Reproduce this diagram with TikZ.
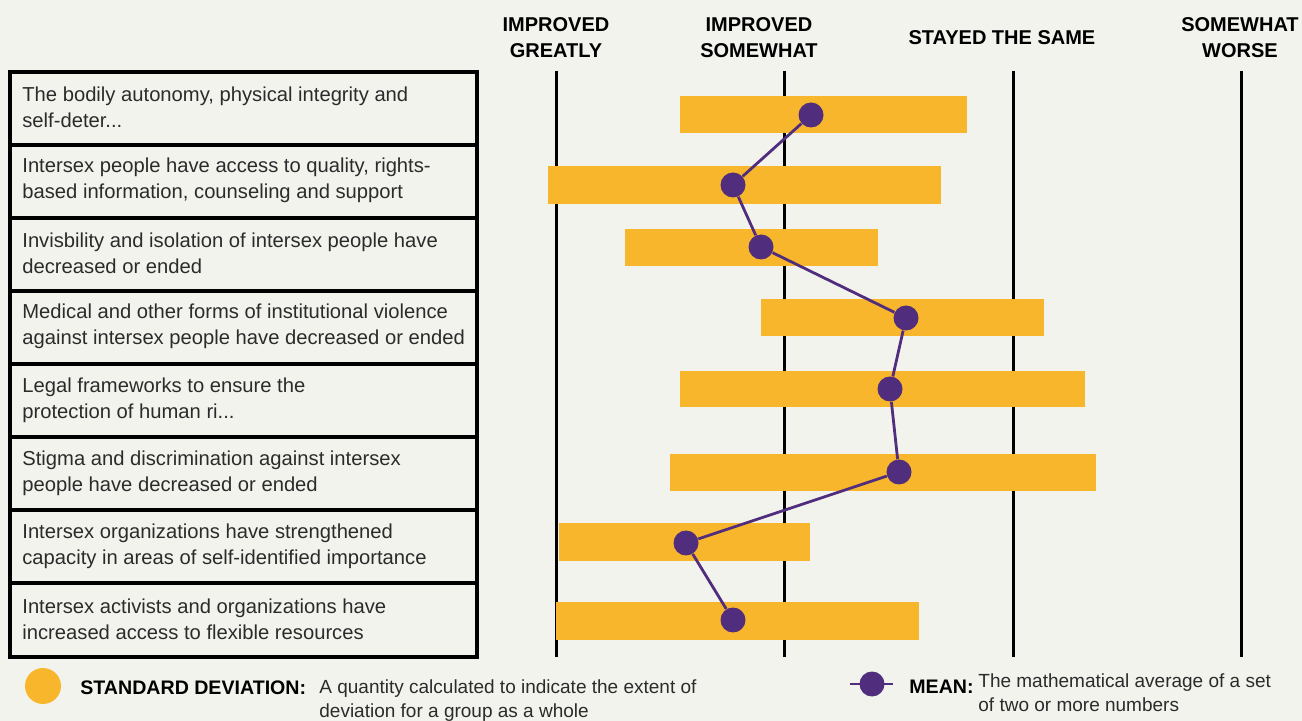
\documentclass[tikz,border=0pt]{standalone}
\usepackage{fontspec}
\setmainfont{Liberation Sans}
\definecolor{sdorange}{HTML}{F8B62C}
\definecolor{meanpurple}{HTML}{512D7D}
\definecolor{paper}{HTML}{F3F3EE}
\definecolor{labelgrey}{HTML}{2B2B2B}
\tikzset{
  rowlabel/.style={anchor=west, align=left, inner sep=0pt, text=labelgrey,
    font=\fontsize{10.1}{13.2}\selectfont},
  colhead/.style={align=center, inner sep=0pt, text=black,
    font=\fontsize{10}{13}\selectfont\bfseries},
  legendhead/.style={anchor=west, inner sep=0pt, text=black,
    font=\fontsize{9.8}{12}\selectfont\bfseries},
  legendtext/.style={anchor=north west, align=left, inner sep=0pt, text=labelgrey,
    font=\fontsize{9.5}{12}\selectfont},
  meandot/.style={circle, fill=meanpurple, inner sep=0pt, minimum size=12.5pt},
  meanline/.style={meanpurple, line width=1.4pt},
  sdbar/.style={fill=sdorange},
  scaleline/.style={line width=1.5pt, black},
}
\begin{document}
\begin{tikzpicture}[x=0.5pt,y=-0.5pt]
		\fill[paper] (0,0) rectangle (1302,721);
		\useasboundingbox (0,0) rectangle (1302,721);
		%
		% column heads and scale lines
		\node[colhead] (hgreat) at (556,38) {IMPROVED\\GREATLY};
		\node[colhead] (hsome) at (759,38) {IMPROVED\\SOMEWHAT};
		\node[colhead] (hsame) at (1002,38) {STAYED THE SAME};
		\node[colhead] (hworse) at (1240,38) {SOMEWHAT\\WORSE};
		\draw[scaleline] (556,71) -- (556,657);
		\draw[scaleline] (784,71) -- (784,657);
		\draw[scaleline] (1013,71) -- (1013,657);
		\draw[scaleline] (1241,71) -- (1241,657);
		%
		% label table
		\draw[line width=1.7pt,black] (10,72) rectangle (477,657);
		\draw[line width=1.7pt,black] (10,145) -- (477,145);
		\draw[line width=1.7pt,black] (10,218) -- (477,218);
		\draw[line width=1.7pt,black] (10,291) -- (477,291);
		\draw[line width=1.7pt,black] (10,364) -- (477,364);
		\draw[line width=1.7pt,black] (10,437) -- (477,437);
		\draw[line width=1.7pt,black] (10,510) -- (477,510);
		\draw[line width=1.7pt,black] (10,583) -- (477,583);
		%
		\node[rowlabel] (r1) at (22,107) {The bodily autonomy, physical integrity and\\self-deter...};
		\node[rowlabel] (r2) at (22,180) {Intersex people have access to quality, rights-\\based information, counseling and support};
		\node[rowlabel] (r3) at (22,253) {Invisbility and isolation of intersex people have\\decreased or ended};
		\node[rowlabel] (r4) at (22,326) {Medical and other forms of institutional violence\\against intersex people have decreased or ended};
		\node[rowlabel] (r5) at (22,400) {Legal frameworks to ensure the\\protection of human ri...};
		\node[rowlabel] (r6) at (22,473) {Stigma and discrimination against intersex\\people have decreased or ended};
		\node[rowlabel] (r7) at (22,546) {Intersex organizations have strengthened\\capacity in areas of self-identified importance};
		\node[rowlabel] (r8) at (22,619) {Intersex activists and organizations have\\increased access to flexible resources};
		%
		% standard deviation bars
		\fill[sdbar] (680,96) rectangle (967,133);
		\fill[sdbar] (548,166) rectangle (941,204);
		\fill[sdbar] (625,229) rectangle (878,266);
		\fill[sdbar] (761,299) rectangle (1044,336);
		\fill[sdbar] (680,371) rectangle (1085,407);
		\fill[sdbar] (670,454) rectangle (1096,491);
		\fill[sdbar] (559,523) rectangle (810,561);
		\fill[sdbar] (556,602) rectangle (919,640);
		%
		% means
		\node[meandot] (m1) at (811,115) {};
		\node[meandot] (m2) at (733,185) {};
		\node[meandot] (m3) at (761,247) {};
		\node[meandot] (m4) at (906,318) {};
		\node[meandot] (m5) at (890,389) {};
		\node[meandot] (m6) at (899,472) {};
		\node[meandot] (m7) at (686,543) {};
		\node[meandot] (m8) at (733,620) {};
		\draw[meanline] (m1) -- (m2) -- (m3) -- (m4) -- (m5) -- (m6) -- (m7) -- (m8);
		%
		% legend
		\node[circle,fill=sdorange,inner sep=0pt,minimum size=18pt] (ksd) at (43,686) {};
		\node[legendhead] (lsd) at (80,688) {STANDARD DEVIATION:};
		\node[legendtext] (tsd) at (319,679) {A quantity calculated to indicate the extent of\\deviation for a group as a whole};
		\coordinate (kl) at (850,684);
		\coordinate (kr) at (893,684);
		\draw[meanline] (kl) -- (kr);
		\node[meandot] (kmean) at (872,684) {};
		\node[legendhead] (lmean) at (909,687) {MEAN:};
		\node[legendtext] (tmean) at (978,673) {The mathematical average of a set\\of two or more numbers};
		%
\end{tikzpicture}
\end{document}
